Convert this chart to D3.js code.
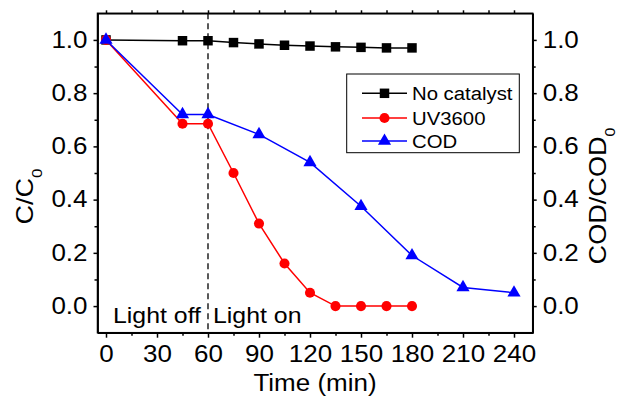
<!DOCTYPE html>
<html>
<head>
<meta charset="utf-8">
<script src="https://cdn.jsdelivr.net/npm/d3@7"></script>
<style>
  body { margin: 0; background: #fff; }
  svg { display: block; font-family: "Liberation Sans", Arial, sans-serif; }
  .axis path, .axis line { stroke: #000; stroke-width: 1.5; }
  .axis text { fill: #000; font-size: 23px; }
</style>
</head>
<body>
<div id="chart"></div>
<script>
// data
var timeNoCat = [0, 45, 60, 75, 90, 105, 120, 135, 150, 165, 180];
var noCatalyst = [1.0, 0.997, 0.997, 0.99, 0.985, 0.98, 0.977, 0.974, 0.972, 0.97, 0.97];
var timeUV = [0, 45, 60, 75, 90, 105, 120, 135, 150, 165, 180];
var uv3600 = [1.0, 0.685, 0.685, 0.50, 0.31, 0.16, 0.05, 0.0, 0.0, 0.0, 0.0];
var timeCOD = [0, 45, 60, 90, 120, 150, 180, 210, 240];
var cod = [1.0, 0.72, 0.72, 0.645, 0.54, 0.375, 0.19, 0.07, 0.05];
var xTicks = [0, 30, 60, 90, 120, 150, 180, 210, 240];
var xMinor = [15, 45, 75, 105, 135, 165, 195, 225];
var yTicks = [0.0, 0.2, 0.4, 0.6, 0.8, 1.0];
var yMinor = [0.1, 0.3, 0.5, 0.7, 0.9];
var seriesNames = ["No catalyst", "UV3600", "COD"];

var width = 618, height = 398;
var plotLeft = 97.5, plotRight = 532.7, plotTop = 13.3, plotBottom = 332.7;
var k = 1.13; // the original text is a bit wider than Liberation Sans

var svg = d3.select("#chart")
  .append("svg")
    .attr("width", width)
    .attr("height", height);

var x = d3.scaleLinear().domain([-5, 251]).range([plotLeft, plotRight]);
var y = d3.scaleLinear().domain([-0.1, 1.1]).range([plotBottom, plotTop]);

// widen text around its anchor point
function stretch(sel, rot) {
  sel.each(function() {
    var t = d3.select(this);
    var tx = +t.attr("x") || 0, ty = +t.attr("y") || 0;
    t.attr("x", null).attr("y", null)
      .attr("transform", "translate(" + tx + "," + ty + ")" + (rot ? " rotate(" + rot + ")" : "") + " scale(" + k + ",1)");
  });
}

// frame
svg.append("rect")
  .attr("x", plotLeft).attr("y", plotTop)
  .attr("width", plotRight - plotLeft).attr("height", plotBottom - plotTop)
  .attr("fill", "none").attr("stroke", "#000").attr("stroke-width", 1.5);

// bottom axis
svg.append("g").attr("class", "axis")
  .attr("transform", "translate(0," + plotBottom + ")")
  .call(d3.axisBottom(x).tickValues(xTicks).tickSize(5).tickSizeOuter(0).tickPadding(8).tickFormat(d3.format("d")))
  .selectAll("text").call(stretch);
svg.append("g").attr("class", "axis")
  .attr("transform", "translate(0," + plotBottom + ")")
  .call(d3.axisBottom(x).tickValues(xMinor).tickSize(3).tickSizeOuter(0).tickFormat(""));
// top axis, ticks only
svg.append("g").attr("class", "axis")
  .attr("transform", "translate(0," + plotTop + ")")
  .call(d3.axisTop(x).tickValues(xTicks.concat(xMinor)).tickSize(3).tickSizeOuter(0).tickFormat(""));

// left axis
svg.append("g").attr("class", "axis")
  .attr("transform", "translate(" + plotLeft + ",0)")
  .call(d3.axisLeft(y).tickValues(yTicks).tickSize(4).tickSizeOuter(0).tickPadding(6).tickFormat(d3.format(".1f")))
  .selectAll("text").call(stretch);
svg.append("g").attr("class", "axis")
  .attr("transform", "translate(" + plotLeft + ",0)")
  .call(d3.axisLeft(y).tickValues(yMinor).tickSize(3).tickSizeOuter(0).tickFormat(""));

// right axis
svg.append("g").attr("class", "axis")
  .attr("transform", "translate(" + plotRight + ",0)")
  .call(d3.axisRight(y).tickValues(yTicks).tickSize(4).tickSizeOuter(0).tickPadding(6).tickFormat(d3.format(".1f")))
  .selectAll("text").call(stretch);
svg.append("g").attr("class", "axis")
  .attr("transform", "translate(" + plotRight + ",0)")
  .call(d3.axisRight(y).tickValues(yMinor).tickSize(3).tickSizeOuter(0).tickFormat(""));

// dashed light on/off line
svg.append("line")
  .attr("x1", x(60)).attr("x2", x(60))
  .attr("y1", plotTop).attr("y2", plotBottom)
  .attr("stroke", "#000").attr("stroke-width", 1.3)
  .attr("stroke-dasharray", "6,4");

svg.append("text").attr("x", 113).attr("y", 323)
  .attr("font-size", 22).text("Light off").call(stretch);
svg.append("text").attr("x", 213).attr("y", 323)
  .attr("font-size", 22).text("Light on").call(stretch);

// axis titles
svg.append("text")
  .attr("x", 315).attr("y", 391)
  .attr("text-anchor", "middle").attr("font-size", 23)
  .text("Time (min)").call(stretch);

var yl = svg.append("text")
  .attr("x", 33).attr("y", 196.5)
  .attr("text-anchor", "middle").attr("font-size", 24);
yl.append("tspan").text("C/C");
yl.append("tspan").attr("font-size", 15).attr("dy", 9).text("0");
yl.call(stretch, -90);

var yr = svg.append("text")
  .attr("x", 606).attr("y", 196)
  .attr("text-anchor", "middle").attr("font-size", 24);
yr.append("tspan").text("COD/COD");
yr.append("tspan").attr("font-size", 14).attr("dy", 9).text("0");
yr.call(stretch, -90);

// series
var line = d3.line().x(function(d) { return x(d[0]); }).y(function(d) { return y(d[1]); });

function zipData(t, v) { return t.map(function(d, i) { return [d, v[i]]; }); }

var series = [
  {name: seriesNames[0], data: zipData(timeNoCat, noCatalyst), color: "#000000", shape: d3.symbolSquare, size: 90},
  {name: seriesNames[1], data: zipData(timeUV, uv3600), color: "#ff0000", shape: d3.symbolCircle, size: 80},
  {name: seriesNames[2], data: zipData(timeCOD, cod), color: "#0000ff", shape: d3.symbolTriangle, size: 75}
];

series.forEach(function(s) {
  svg.append("path")
    .datum(s.data)
    .attr("d", line)
    .attr("fill", "none")
    .attr("stroke", s.color)
    .attr("stroke-width", 1.5);
  svg.selectAll(null)
    .data(s.data)
    .enter()
    .append("path")
      .attr("d", d3.symbol().type(s.shape).size(s.size))
      .attr("transform", function(d) { return "translate(" + x(d[0]) + "," + y(d[1]) + ")"; })
      .attr("fill", s.color);
});

// legend
var legend = svg.append("g");
legend.append("rect")
  .attr("x", 346.7).attr("y", 74)
  .attr("width", 172.6).attr("height", 78.7)
  .attr("fill", "#fff").attr("stroke", "#000").attr("stroke-width", 1);

var rowY = [93.3, 118, 141];
series.forEach(function(s, i) {
  legend.append("line")
    .attr("x1", 362).attr("x2", 407)
    .attr("y1", rowY[i]).attr("y2", rowY[i])
    .attr("stroke", s.color).attr("stroke-width", 1.5);
  legend.append("path")
    .attr("d", d3.symbol().type(s.shape).size(s.size))
    .attr("transform", "translate(384.5," + rowY[i] + ")")
    .attr("fill", s.color);
  legend.append("text")
    .attr("x", 412).attr("y", rowY[i] + 6.5)
    .attr("font-size", 18)
    .text(s.name).call(stretch);
});
</script>
</body>
</html>
